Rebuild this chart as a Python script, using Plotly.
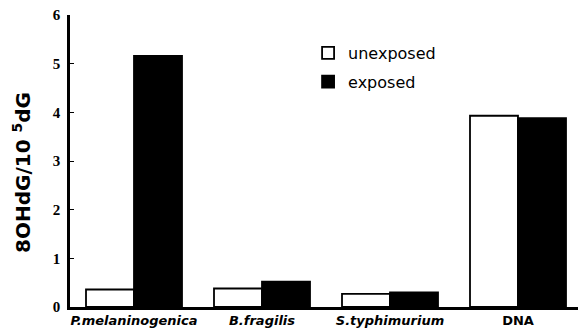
import plotly.graph_objects as go

categories = ["P.melaninogenica", "B.fragilis", "S.typhimurium", "DNA"]
tick_labels = ["<b><i>P.melaninogenica</i></b>", "<b><i>B.fragilis</i></b>",
               "<b><i>S.typhimurium</i></b>", "<b>DNA</b>"]
unexposed = [0.36, 0.38, 0.27, 3.93]
exposed = [5.16, 0.52, 0.30, 3.88]
y_ticks = [0, 1, 2, 3, 4, 5, 6]
y_title = "<b>8OHdG/10 <sup>5</sup>dG</b>"

fig = go.Figure()
fig.add_trace(go.Bar(x=categories, y=unexposed, name="unexposed", legendgroup="a",
                     marker=dict(color="white", line=dict(color="black", width=1.8))))
fig.add_trace(go.Bar(x=categories, y=exposed, name="exposed", legendgroup="b",
                     marker=dict(color="black", line=dict(color="black", width=1.8))))

fig.add_annotation(text=y_title, xref="paper", yref="paper", x=-0.094, y=0.462,
                   xanchor="center", yanchor="middle", textangle=-90, showarrow=False,
                   font=dict(size=20, family="DejaVu Sans", color="black"))

fig.update_layout(
    width=578, height=327,
    margin=dict(l=62, r=4, t=7, b=28),
    paper_bgcolor="white", plot_bgcolor="white",
    barmode="group", bargap=0.25, bargroupgap=0,
    font=dict(family="DejaVu Sans", color="black", size=12),
    legend=dict(x=0.465, y=0.928, xanchor="left", yanchor="top",
                bgcolor="rgba(0,0,0,0)", font=dict(size=16, family="DejaVu Sans"),
                tracegroupgap=5),
    xaxis=dict(
        tickmode="array", tickvals=categories, ticktext=tick_labels,
        showline=True, linecolor="black", linewidth=2.5,
        ticks="", showgrid=False, automargin=False,
        tickfont=dict(size=13, family="DejaVu Sans"),
        range=[-0.5, 3.5],
    ),
    yaxis=dict(
        range=[0, 6], tickvals=y_ticks,
        showline=True, linecolor="black", linewidth=2.5,
        ticks="inside", ticklen=4, tickcolor="black",
        showgrid=False, zeroline=False, automargin=False,
        ticklabeloverflow="allow", ticklabelstandoff=4,
        tickfont=dict(size=15, family="Liberation Serif", weight="bold"),
    ),
)

fig.write_html("out.html")
